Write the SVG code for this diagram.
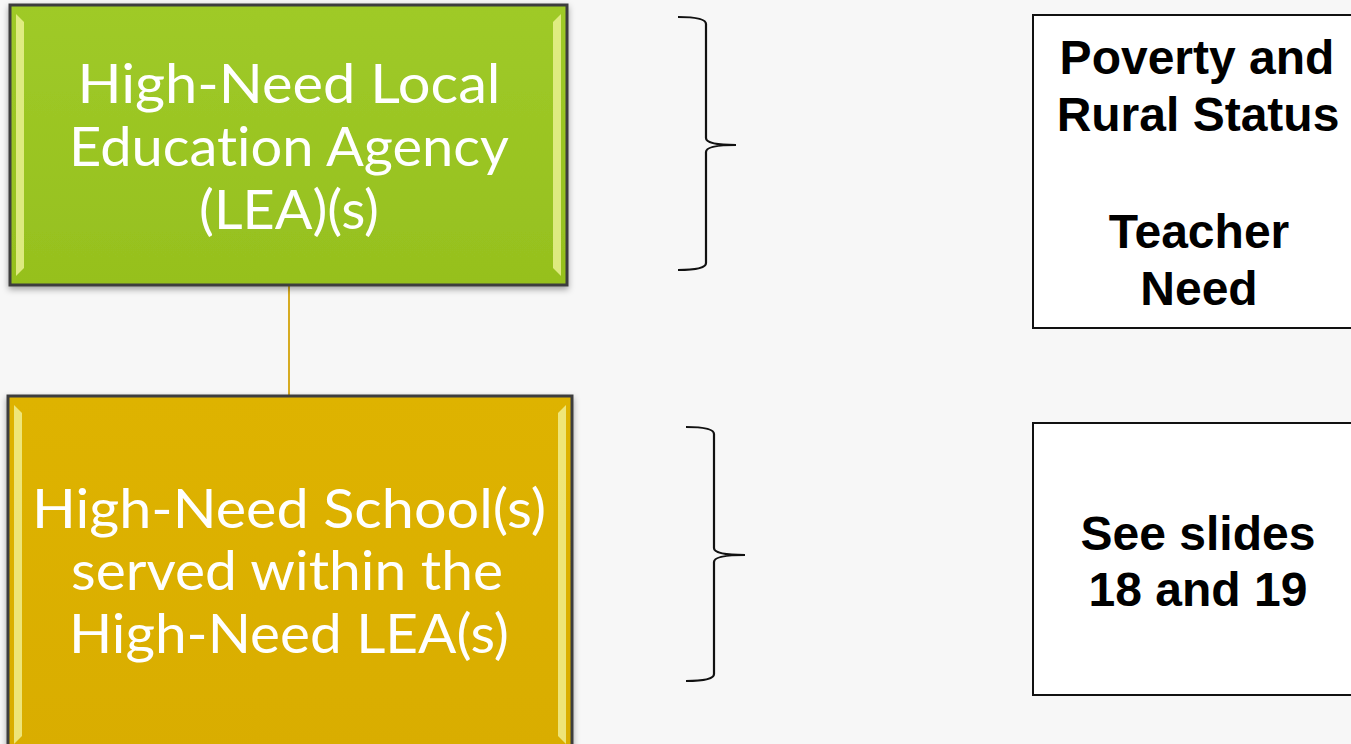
<svg xmlns="http://www.w3.org/2000/svg" width="1351" height="744" viewBox="0 0 1351 744">
<defs>
<style>
.lt{font-family:Lato,"Open Sans","DejaVu Sans",sans-serif;font-size:55px;fill:#fff;text-anchor:middle;font-variant-ligatures:none;font-feature-settings:"liga" 0,"clig" 0,"dlig" 0}
.rt{font-family:"Liberation Sans",Arial,sans-serif;font-size:48px;font-weight:bold;fill:#000;text-anchor:middle}
.brace{fill:none;stroke:#111;stroke-width:2.2}
.box{fill:#fff;stroke:#111;stroke-width:2}
.hl{fill:#f4f7a0;opacity:0.75}
</style>
<linearGradient id="gg" x1="0" y1="0" x2="0" y2="1">
<stop offset="0" stop-color="#9fca28"/><stop offset="1" stop-color="#96c01e"/>
</linearGradient>
<linearGradient id="yg" x1="0" y1="0" x2="0" y2="1">
<stop offset="0" stop-color="#deb306"/><stop offset="1" stop-color="#d9ad00"/>
</linearGradient>
<filter id="sh" x="-5%" y="-5%" width="110%" height="115%">
<feDropShadow dx="0" dy="3" stdDeviation="3" flood-color="#000" flood-opacity="0.35"/>
</filter>
</defs>
<rect width="1351" height="744" fill="#f7f7f7"/>
<g id="connectors">
<line x1="289" y1="285" x2="289" y2="396" stroke="#d6ab22" stroke-width="2"/>
</g>
<g id="node-lea">
<rect x="10" y="5" width="557" height="280" fill="url(#gg)" stroke="#3c3c3c" stroke-width="3" filter="url(#sh)"/>
<path class="hl" d="M16 14 L24 22 L24 268 L16 276 Z"/>
<path class="hl" d="M561 14 L553 22 L553 268 L561 276 Z"/>
<text class="lt" x="289" y="103" textLength="423" lengthAdjust="spacingAndGlyphs">High-Need Local</text>
<text class="lt" x="289" y="166" textLength="440" lengthAdjust="spacingAndGlyphs">Education Agency</text>
<text class="lt" x="289" y="229" textLength="180" lengthAdjust="spacingAndGlyphs">(LEA)(s)</text>
</g>
<g id="node-school">
<rect x="8" y="396" width="564" height="360" fill="url(#yg)" stroke="#3c3c3c" stroke-width="3" filter="url(#sh)"/>
<path class="hl" d="M14 405 L22 413 L22 736 L14 744 Z"/>
<path class="hl" d="M566 405 L558 413 L558 736 L566 744 Z"/>
<text class="lt" x="289" y="528" textLength="514" lengthAdjust="spacingAndGlyphs">High-Need School(s)</text>
<text class="lt" x="287" y="590" textLength="432" lengthAdjust="spacingAndGlyphs">served within the</text>
<text class="lt" x="289" y="653" textLength="440" lengthAdjust="spacingAndGlyphs">High-Need LEA(s)</text>
</g>
<g id="brace-1">
<path class="brace" d="M678 17 Q706 17 706 24 L706 138 Q706 145 736 145 Q706 145 706 152 L706 263 Q706 270 678 270"/>
</g>
<g id="brace-2">
<path class="brace" d="M686 427 Q714 427 714 434 L714 548 Q714 555 745 555 Q714 555 714 562 L714 674 Q714 681 686 681"/>
</g>
<g id="node-criteria">
<rect class="box" x="1033" y="15" width="330" height="313"/>
<text class="rt" x="1197" y="74">Poverty and</text>
<text class="rt" x="1198" y="131">Rural Status</text>
<text class="rt" x="1199" y="248">Teacher</text>
<text class="rt" x="1199" y="305">Need</text>
</g>
<g id="node-slides">
<rect class="box" x="1033" y="423" width="330" height="272"/>
<text class="rt" x="1198" y="550">See slides</text>
<text class="rt" x="1198" y="606">18 and 19</text>
</g>
</svg>
